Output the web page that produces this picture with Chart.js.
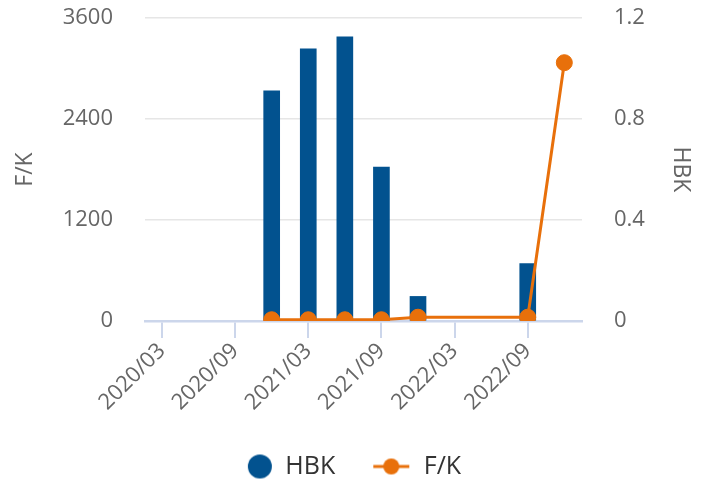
<!DOCTYPE html>
<html>
<head>
<meta charset="utf-8">
<script src="https://cdn.jsdelivr.net/npm/chart.js@4.4.0/dist/chart.umd.min.js"></script>
<style>
  html, body { margin: 0; padding: 0; background: #fff; }
  #wrap { width: 708px; height: 480px; }
</style>
</head>
<body>
<div id="wrap"><canvas id="chart" width="708" height="480"></canvas></div>
<script>
const periods = ['2020/12', '2021/03', '2021/06', '2021/09', '2021/12', '2022/09', '2022/12'];
const hbkValues = [2736, 3233, 3376, 1830, 292, 682, null];
const fkValues = [0.005, 0.005, 0.005, 0.005, 0.015, 0.015, 1.023];
const xTickLabels = ['2020/03', '2020/09', '2021/03', '2021/09', '2022/03', '2022/09'];
const leftTicks = [0, 1200, 2400, 3600];
const rightTicks = [0, 0.4, 0.8, 1.2];

const BLUE = '#02528f';
const ORANGE = '#e8700b';

// months since 2020/01
function toMonth(s) {
    const [y, m] = s.split('/').map(Number);
    return (y - 2020) * 12 + (m - 1);
}
function fromMonth(v) {
    const y = 2020 + Math.floor(v / 12);
    const m = Math.round(v - (y - 2020) * 12) + 1;
    return y + '/' + String(m).padStart(2, '0');
}

function legendIcon(kind) {
    const c = document.createElement('canvas');
    c.width = 40; c.height = 26;
    const g = c.getContext('2d');
    if (kind === 'bar') {
        g.fillStyle = BLUE;
        g.beginPath(); g.arc(27, 13, 12, 0, Math.PI * 2); g.fill();
    } else {
        g.strokeStyle = ORANGE; g.lineWidth = 3;
        g.beginPath(); g.moveTo(2, 13); g.lineTo(38, 13); g.stroke();
        g.fillStyle = ORANGE;
        g.beginPath(); g.arc(20, 13, 8, 0, Math.PI * 2); g.fill();
    }
    return c;
}

function noVPad(s, w) {
    s.width = w;
    s.paddingTop = 0;
    s.paddingBottom = 0;
}

Chart.defaults.font.family = "'Open Sans', sans-serif";
Chart.defaults.color = '#666666';

const ctx = document.getElementById('chart').getContext('2d');
const chart = new Chart(ctx, {
    type: 'bar',
    data: {
        datasets: [{
            type: 'bar',
            label: 'HBK',
            data: periods.map((p, i) => ({ x: toMonth(p), y: hbkValues[i] })),
            backgroundColor: BLUE,
            barThickness: 16,
            yAxisID: 'y',
            order: 2
        }, {
            type: 'line',
            label: 'F/K',
            data: periods.map((p, i) => ({ x: toMonth(p), y: fkValues[i] })),
            borderColor: ORANGE,
            backgroundColor: ORANGE,
            borderWidth: 3,
            pointRadius: 8,
            pointBorderWidth: 1,
            pointBackgroundColor: ORANGE,
            tension: 0,
            yAxisID: 'y1',
            order: 1
        }]
    },
    options: {
        responsive: false,
        animation: false,
        layout: { padding: { top: 18, bottom: -9, left: 0, right: 14 } },
        scales: {
            x: {
                type: 'linear',
                offset: false,
                min: 0.61,
                max: 36.45,
                afterFit: s => { s.height = 97; },
                afterBuildTicks: s => { s.ticks = xTickLabels.map(l => ({ value: toMonth(l) })); },
                ticks: {
                    callback: v => fromMonth(v),
                    minRotation: 45,
                    maxRotation: 45,
                    padding: 0,
                    font: { size: 22 },
                    color: '#666666'
                },
                grid: {
                    offset: false,
                    drawOnChartArea: false,
                    drawTicks: true,
                    tickLength: 17,
                    color: '#ccd6eb',
                    lineWidth: 2
                },
                border: { display: true, color: '#ccd6eb', width: 2.5 }
            },
            y: {
                position: 'left',
                min: 0,
                max: 3600,
                afterFit: s => noVPad(s, 145),
                afterBuildTicks: s => { s.ticks = leftTicks.map(v => ({ value: v })); },
                ticks: { padding: 32, font: { size: 22 }, color: '#666666', callback: v => String(v) },
                grid: { color: '#e6e6e6', lineWidth: 1.5, drawTicks: false },
                border: { display: false },
                title: { display: true, text: 'F/K', font: { size: 23 }, color: '#666666', padding: { top: 12, bottom: 0 } }
            },
            y1: {
                position: 'right',
                min: 0,
                max: 1.2,
                afterFit: s => noVPad(s, 112),
                afterBuildTicks: s => { s.ticks = rightTicks.map(v => ({ value: v })); },
                ticks: {
                    padding: 32,
                    font: { size: 22 },
                    color: '#666666',
                    callback: v => String(+v.toFixed(1))
                },
                grid: { drawOnChartArea: false, drawTicks: false },
                border: { display: false },
                title: { display: true, text: 'HBK', font: { size: 23 }, color: '#666666', padding: { top: 0, bottom: 0 } }
            }
        },
        plugins: {
            tooltip: { enabled: false },
            legend: {
                position: 'bottom',
                labels: {
                    usePointStyle: true,
                    pointStyleWidth: 40,
                    padding: 36,
                    color: '#333333',
                    font: { size: 25 },
                    generateLabels: c => [
                        { text: 'HBK', pointStyle: legendIcon('bar'), fontColor: '#333333', datasetIndex: 0, hidden: false, lineWidth: 0 },
                        { text: 'F/K', pointStyle: legendIcon('line'), fontColor: '#333333', datasetIndex: 1, hidden: false, lineWidth: 0 }
                    ]
                }
            }
        }
    }
});
</script>
</body>
</html>
